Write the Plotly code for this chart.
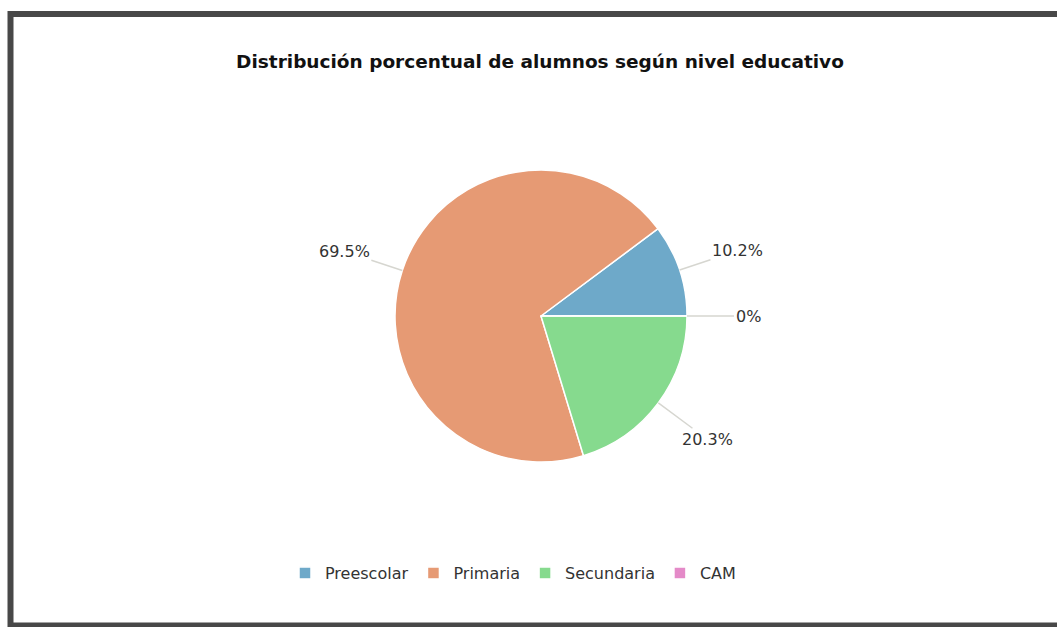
import math
import plotly.graph_objects as go

categories = ["Preescolar", "Primaria", "Secundaria", "CAM"]
values = [10.2, 69.5, 20.3, 0]
label_texts = ["10.2%", "69.5%", "20.3%", "0%"]
colors = ["#6ea9c9", "#e69a74", "#86da8e", "#e48ac8"]
title_text = "Distribución porcentual de alumnos según nivel educativo"

W, H = 1057, 627


def px(x):
    return x / W


def py(y):
    return 1 - y / H


cx, cy, r = 541, 316, 146
label_r = 207

total = sum(values)
first_frac = values[0] / total

fig = go.Figure()
fig.add_trace(go.Pie(
    labels=categories,
    values=values,
    sort=False,
    direction="counterclockwise",
    rotation=90 - 360 * first_frac,
    marker=dict(colors=colors, line=dict(color="#ffffff", width=1.5)),
    textinfo="none",
    hoverinfo="label+percent",
    domain=dict(x=[px(cx - r), px(cx + r)], y=[py(cy + r), py(cy - r)]),
    showlegend=True,
))

# outside labels with leader lines, positioned from slice mid-angles
annotations = []
start = 0.0
for v, t in zip(values, label_texts):
    span = 360.0 * v / total
    mid = math.radians(start + span / 2)
    start += span
    ex = cx + r * math.cos(mid)
    ey = cy - r * math.sin(mid)
    annotations.append(dict(
        x=px(ex), y=py(ey), xref="paper", yref="paper",
        text=t, showarrow=True, arrowhead=0, arrowwidth=1.5, arrowcolor="#d6d6d0",
        ax=(label_r - r) * math.cos(mid), ay=-(label_r - r) * math.sin(mid),
        font=dict(family="DejaVu Sans", size=16, color="#333333"),
    ))

fig.update_layout(
    width=W, height=H,
    margin=dict(l=0, r=0, t=0, b=0),
    paper_bgcolor="#ffffff",
    plot_bgcolor="#ffffff",
    title=dict(text="<b>" + title_text + "</b>", x=px(540), xanchor="center",
               y=py(62), yanchor="middle",
               font=dict(family="DejaVu Sans", size=18.5, color="#111111")),
    legend=dict(orientation="h", x=px(513), xanchor="center", y=py(573), yanchor="middle",
                font=dict(family="DejaVu Sans", size=16, color="#333333"),
                traceorder="normal"),
    annotations=annotations,
    shapes=[dict(type="rect", xref="paper", yref="paper",
                 x0=px(10.5), x1=1.05, y0=py(625.5), y1=py(14),
                 line=dict(color="#484848", width=6), fillcolor="rgba(0,0,0,0)", layer="below")],
)

fig.write_html("out.html",
               config={"displayModeBar": False},
               post_script="document.body.style.margin='0';document.body.style.overflow='hidden';")
